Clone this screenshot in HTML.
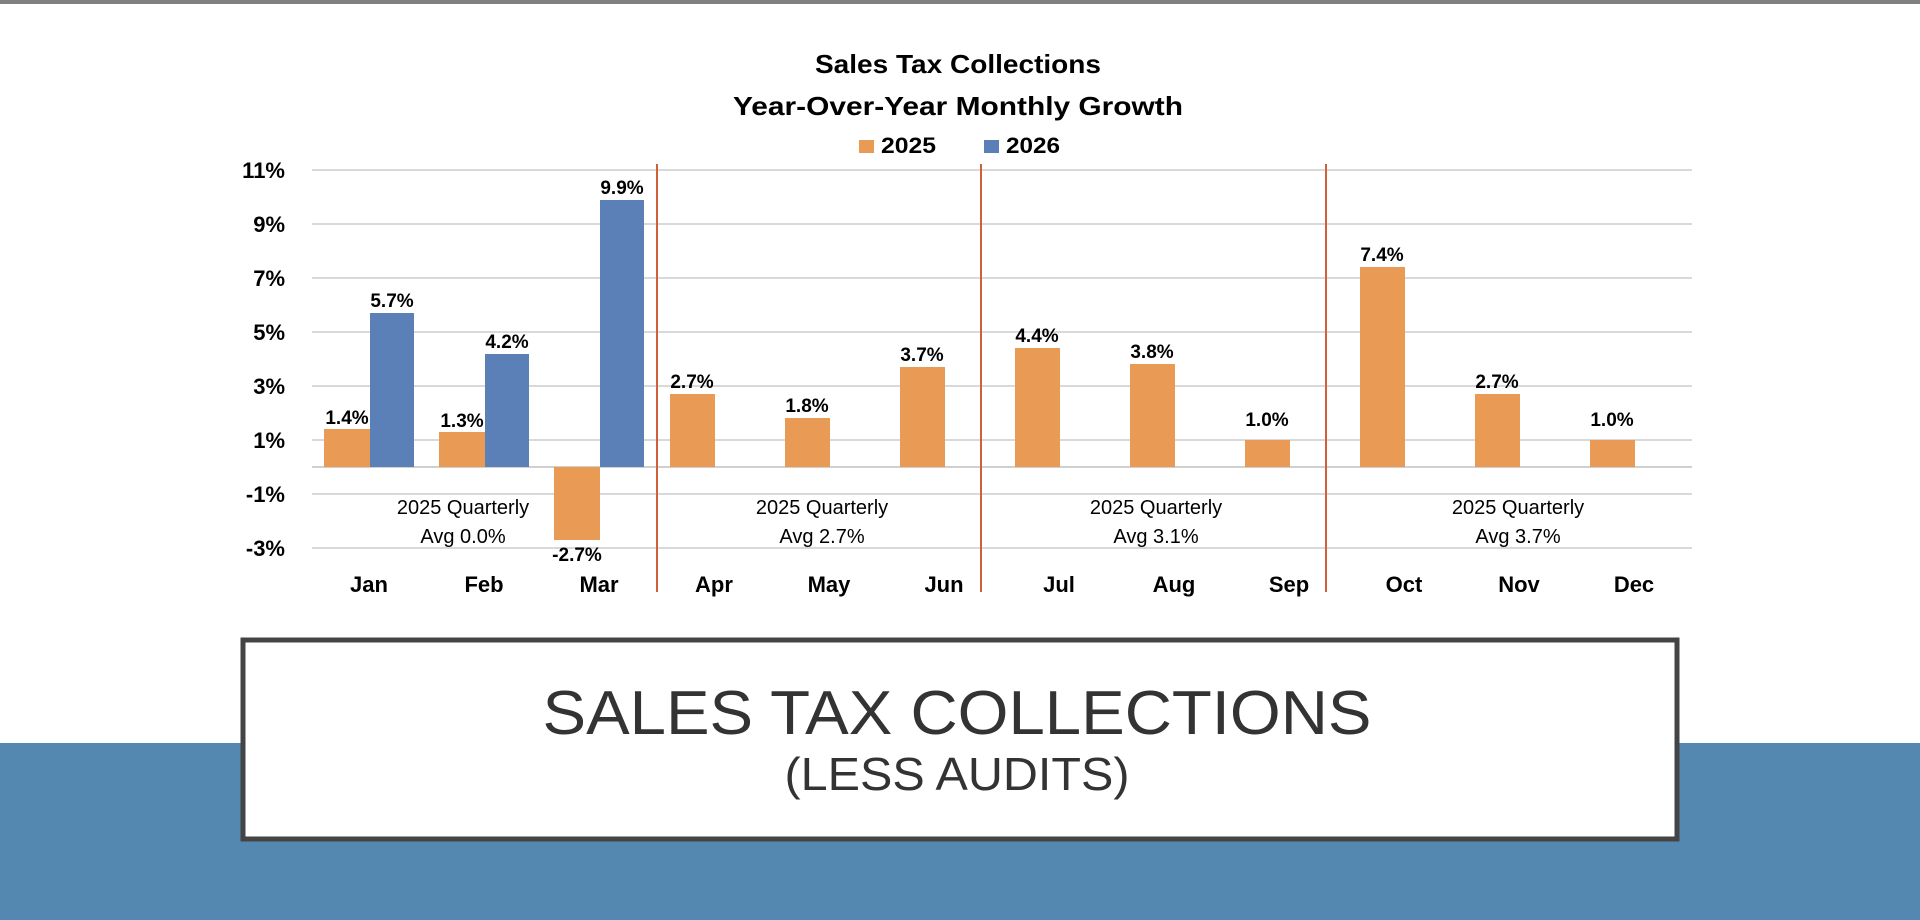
<!DOCTYPE html>
<html><head><meta charset="utf-8"><style>
html,body{margin:0;padding:0;background:#fff;}
svg{display:block;}
</style></head><body>
<svg width="1920" height="920" viewBox="0 0 1920 920" xmlns="http://www.w3.org/2000/svg" font-family="Liberation Sans, Arial, sans-serif">
<rect x="0" y="0" width="1920" height="920" fill="#fff"/>
<rect x="0" y="0" width="1920" height="4" fill="#808080"/>
<rect x="0" y="743" width="1920" height="177" fill="#5588B0"/>
<!-- titles -->
<text x="958" y="73" font-size="26" font-weight="bold" text-anchor="middle" textLength="286" lengthAdjust="spacingAndGlyphs">Sales Tax Collections</text>
<text x="958" y="115" font-size="26" font-weight="bold" text-anchor="middle" textLength="450" lengthAdjust="spacingAndGlyphs">Year-Over-Year Monthly Growth</text>
<rect x="859" y="140" width="15" height="13" fill="#E99B56"/>
<text x="881" y="153" font-size="22" font-weight="bold" textLength="55" lengthAdjust="spacingAndGlyphs">2025</text>
<rect x="984" y="140" width="15" height="13" fill="#5B80B8"/>
<text x="1006" y="153" font-size="22" font-weight="bold" textLength="54" lengthAdjust="spacingAndGlyphs">2026</text>
<!-- grid -->
<g stroke="#d9d9d9" stroke-width="2">
<line x1="312" x2="1692" y1="170" y2="170"/>
<line x1="312" x2="1692" y1="224" y2="224"/>
<line x1="312" x2="1692" y1="278" y2="278"/>
<line x1="312" x2="1692" y1="332" y2="332"/>
<line x1="312" x2="1692" y1="386" y2="386"/>
<line x1="312" x2="1692" y1="440" y2="440"/>
<line x1="312" x2="1692" y1="494" y2="494"/>
<line x1="312" x2="1692" y1="548" y2="548"/>
<line x1="312" x2="1692" y1="467" y2="467" stroke="#d0d0d0"/>
</g>
<g font-size="22" font-weight="bold" text-anchor="end">
<text x="285" y="178">11%</text>
<text x="285" y="232">9%</text>
<text x="285" y="286">7%</text>
<text x="285" y="340">5%</text>
<text x="285" y="394">3%</text>
<text x="285" y="448">1%</text>
<text x="285" y="502">-1%</text>
<text x="285" y="556">-3%</text>
</g>
<!-- bars -->
<g fill="#E99B56">
<rect x="324" y="429" width="46" height="38"/>
<rect x="439" y="432" width="46" height="35"/>
<rect x="554" y="467" width="46" height="73"/>
<rect x="670" y="394" width="45" height="73"/>
<rect x="785" y="418" width="45" height="49"/>
<rect x="900" y="367" width="45" height="100"/>
<rect x="1015" y="348" width="45" height="119"/>
<rect x="1130" y="364" width="45" height="103"/>
<rect x="1245" y="440" width="45" height="27"/>
<rect x="1360" y="267" width="45" height="200"/>
<rect x="1475" y="394" width="45" height="73"/>
<rect x="1590" y="440" width="45" height="27"/>
</g>
<g fill="#5B80B8">
<rect x="370" y="313" width="44" height="154"/>
<rect x="485" y="354" width="44" height="113"/>
<rect x="600" y="200" width="44" height="267"/>
</g>
<g font-size="19" font-weight="bold" text-anchor="middle">
<text x="347" y="424">1.4%</text>
<text x="392" y="307">5.7%</text>
<text x="462" y="427">1.3%</text>
<text x="507" y="348">4.2%</text>
<text x="577" y="561">-2.7%</text>
<text x="622" y="194">9.9%</text>
<text x="692" y="388">2.7%</text>
<text x="807" y="412">1.8%</text>
<text x="922" y="361">3.7%</text>
<text x="1037" y="342">4.4%</text>
<text x="1152" y="358">3.8%</text>
<text x="1267" y="426">1.0%</text>
<text x="1382" y="261">7.4%</text>
<text x="1497" y="388">2.7%</text>
<text x="1612" y="426">1.0%</text>
</g>
<g stroke="#D0603A" stroke-width="2">
<line x1="657" x2="657" y1="164" y2="592"/>
<line x1="981" x2="981" y1="164" y2="592"/>
<line x1="1326" x2="1326" y1="164" y2="592"/>
</g>
<g font-size="20" text-anchor="middle">
<text x="463" y="514">2025 Quarterly</text><text x="463" y="543">Avg 0.0%</text>
<text x="822" y="514">2025 Quarterly</text><text x="822" y="543">Avg 2.7%</text>
<text x="1156" y="514">2025 Quarterly</text><text x="1156" y="543">Avg 3.1%</text>
<text x="1518" y="514">2025 Quarterly</text><text x="1518" y="543">Avg 3.7%</text>
</g>
<g font-size="22" font-weight="bold" text-anchor="middle">
<text x="369" y="592">Jan</text><text x="484" y="592">Feb</text><text x="599" y="592">Mar</text>
<text x="714" y="592">Apr</text><text x="829" y="592">May</text><text x="944" y="592">Jun</text>
<text x="1059" y="592">Jul</text><text x="1174" y="592">Aug</text><text x="1289" y="592">Sep</text>
<text x="1404" y="592">Oct</text><text x="1519" y="592">Nov</text><text x="1634" y="592">Dec</text>
</g>
<!-- box -->
<rect x="243" y="640" width="1434" height="199" fill="#fff" stroke="#444" stroke-width="5"/>
<text x="957" y="734" font-size="62" fill="#333" text-anchor="middle" textLength="829" lengthAdjust="spacingAndGlyphs">SALES TAX COLLECTIONS</text>
<text x="957" y="790" font-size="46" fill="#333" text-anchor="middle" textLength="345" lengthAdjust="spacingAndGlyphs">(LESS AUDITS)</text>
</svg>
</body></html>
